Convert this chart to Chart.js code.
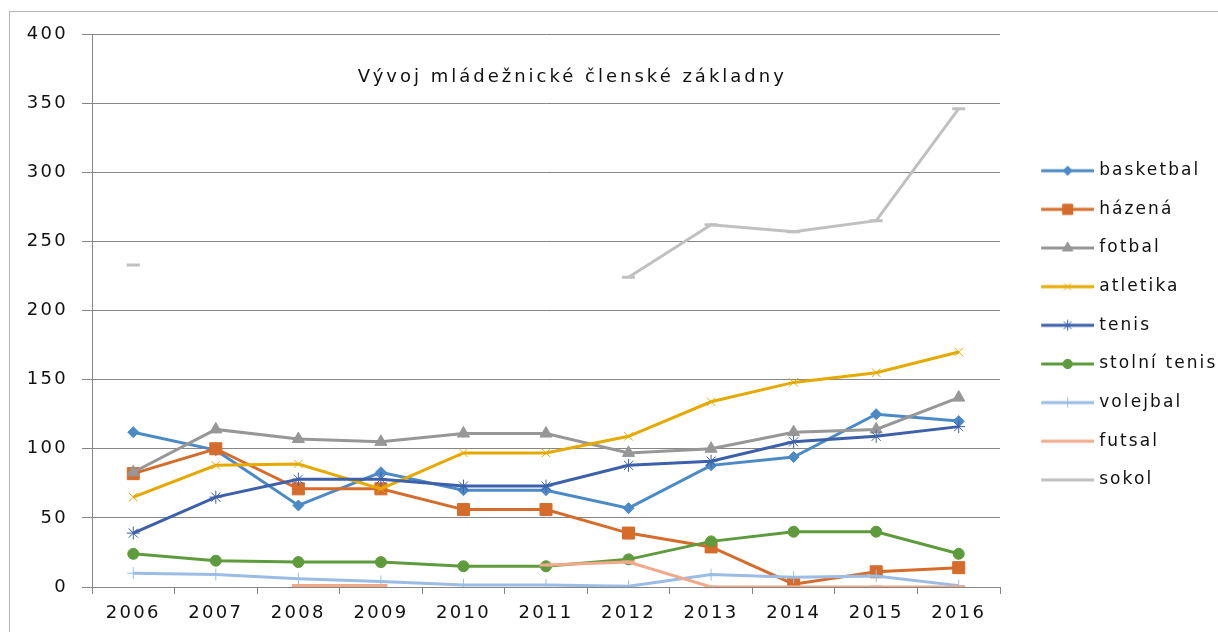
<!DOCTYPE html>
<html>
<head>
<meta charset="utf-8">
<script src="https://cdn.jsdelivr.net/npm/chart.js@4.4.1/dist/chart.umd.min.js"></script>
<style>
  html, body { margin: 0; padding: 0; background: #fff; }
  #wrap { width: 1218px; height: 632px; position: relative; }
</style>
</head>
<body>
<div id="wrap"><canvas id="youth-chart"></canvas></div>
<script>
const chartTitle = 'Vývoj mládežnické členské základny';

const years = ['2006', '2007', '2008', '2009', '2010', '2011', '2012', '2013', '2014', '2015', '2016'];

const basketbal   = [112, 99, 59, 83, 70, 70, 57, 88, 94, 125, 120];
const hazena      = [82, 100, 71, 71, 56, 56, 39, 29, 2, 11, 14];
const fotbal      = [83, 114, 107, 105, 111, 111, 97, 100, 112, 114, 137];
const atletika    = [65, 88, 89, 71, 97, 97, 109, 134, 148, 155, 170];
const tenis       = [39, 65, 78, 78, 73, 73, 88, 91, 105, 109, 116];
const stolniTenis = [24, 19, 18, 18, 15, 15, 20, 33, 40, 40, 24];
const volejbal    = [10, 9, 6, 4, 1.5, 1.5, 0.5, 9, 7, 8, 1];
const futsal      = [null, null, 1, 1, null, 16, 18, 0, 0, 0, 0];
const sokol       = [233, null, null, null, null, null, 224, 262, 257, 265, 346];

const yMin = 0, yMax = 400, yStep = 50;

const GRID = '#868686';
const TEXT = '#111111';
const FONT = { family: '"DejaVu Sans", sans-serif', size: 18 };
const LEGEND_FONT = { family: '"DejaVu Sans", sans-serif', size: 17 };
const SPACING = '2.3px';
const LEGEND_SPACING = '2.1px';
const TITLE_SPACING = '3px';

// legend entry: short line with the marker in the middle (Excel style)
function legendIcon(color, style, radius, markerBorder) {
  const c = document.createElement('canvas');
  c.width = 76; c.height = 20;
  const g = c.getContext('2d');
  g.strokeStyle = color;
  g.fillStyle = color;
  g.lineWidth = 3;
  g.beginPath(); g.moveTo(23, 10); g.lineTo(76, 10); g.stroke();
  if (style && style !== 'line' && radius) {
    g.lineWidth = markerBorder;
    Chart.helpers.drawPoint(g, { pointStyle: style, radius: radius * 0.85, rotation: 0, borderWidth: markerBorder }, 49.5, 10);
  }
  return c;
}

function series(label, data, color, pointStyle, radius, markerBorder, order) {
  return {
    label, data, order,
    borderColor: color,
    backgroundColor: color,
    pointBackgroundColor: color,
    pointBorderColor: color,
    pointStyle,
    pointRadius: radius,
    pointHoverRadius: radius,
    pointBorderWidth: markerBorder,
    borderWidth: 3,
    tension: 0,
    spanGaps: false,
    icon: legendIcon(color, pointStyle, radius, markerBorder)
  };
}

const datasets = [
  series('basketbal', basketbal, '#4c8ac6', 'rectRot', 5.5, 1, 9),
  series('házená', hazena, '#d66c2b', 'rect', 8.5, 1, 8),
  series('fotbal', fotbal, '#979797', 'triangle', 7, 1, 7),
  series('atletika', atletika, '#e6a900', 'crossRot', 6, 1, 6),
  series('tenis', tenis, '#3c60aa', 'star', 6.5, 1, 5),
  series('stolní tenis', stolniTenis, '#5e9b3c', 'circle', 5.5, 1, 4),
  series('volejbal', volejbal, '#9bbde5', 'cross', 6, 1, 3),
  series('futsal', futsal, '#f2a98b', 'line', 6.5, 3, 2),
  series('sokol', sokol, '#c0c0c0', 'line', 6.5, 3, 1)
];

function withSpacing(fn, spacing) {
  return function (...args) {
    const ctx = this.ctx;
    const prev = ctx.letterSpacing;
    ctx.letterSpacing = spacing;
    const r = fn.apply(this, args);
    ctx.letterSpacing = prev;
    return r;
  };
}

const framePlugin = {
  id: 'frame',
  beforeLayout(chart) {
    chart.ctx.letterSpacing = SPACING;
    const lg = chart.legend;
    if (lg && !lg._patched) {
      const fit = withSpacing(lg.fit, LEGEND_SPACING);
      lg.fit = function () { fit.call(this); this.width = 218; };
      lg.draw = withSpacing(lg.draw, LEGEND_SPACING);
      lg._patched = true;
    }
  },
  beforeDraw(chart) {
    const ctx = chart.ctx;
    ctx.letterSpacing = SPACING;
    ctx.save();
    ctx.strokeStyle = '#b4b4b4';
    ctx.lineWidth = 1;
    ctx.strokeRect(9.5, 11.5, chart.width + 10, chart.height + 10);
    ctx.restore();
  },
  afterDraw(chart) {
    const { ctx, chartArea } = chart;
    ctx.save();
    ctx.letterSpacing = TITLE_SPACING;
    ctx.font = '18px "DejaVu Sans"';
    ctx.fillStyle = TEXT;
    ctx.textAlign = 'center';
    ctx.textBaseline = 'middle';
    ctx.fillText(chartTitle, chartArea.left + chartArea.width * 0.529, chartArea.top + 43);
    ctx.restore();
  }
};

new Chart(document.getElementById('youth-chart'), {
  type: 'line',
  data: { labels: years, datasets },
  options: {
    responsive: true,
    maintainAspectRatio: false,
    animation: false,
    events: [],
    layout: { padding: { top: 34, left: 0, right: 0, bottom: 0 } },
    plugins: {
      tooltip: { enabled: false },
      title: { display: false },
      legend: {
        position: 'right',
        fullSize: false,
        title: { display: true, text: '', font: { size: 10, lineHeight: 1 }, padding: { top: 0, bottom: 19.6 } },
        labels: {
          usePointStyle: true,
          pointStyleWidth: 69,
          padding: 21.65,
          font: LEGEND_FONT,
          color: TEXT,
          generateLabels: chart => chart.data.datasets.map((ds, i) => ({
            text: ds.label,
            pointStyle: ds.icon,
            fillStyle: 'transparent',
            strokeStyle: 'transparent',
            lineWidth: 0,
            hidden: false,
            datasetIndex: i,
            fontColor: TEXT
          }))
        }
      }
    },
    scales: {
      x: {
        type: 'category',
        offset: true,
        grid: { offset: true, drawOnChartArea: false, drawTicks: true, tickLength: 7, color: GRID },
        border: { color: GRID, width: 1 },
        ticks: { padding: 9, autoSkip: false, maxRotation: 0, font: FONT, color: TEXT },
        afterFit(s) { s.height = 45; }
      },
      y: {
        min: yMin,
        max: yMax,
        grid: { color: GRID, tickLength: 10 },
        border: { color: GRID, width: 1 },
        ticks: { stepSize: yStep, padding: 14, font: FONT, color: TEXT },
        afterFit(s) { s.width = 92; }
      }
    }
  },
  plugins: [framePlugin]
});
</script>
</body>
</html>
